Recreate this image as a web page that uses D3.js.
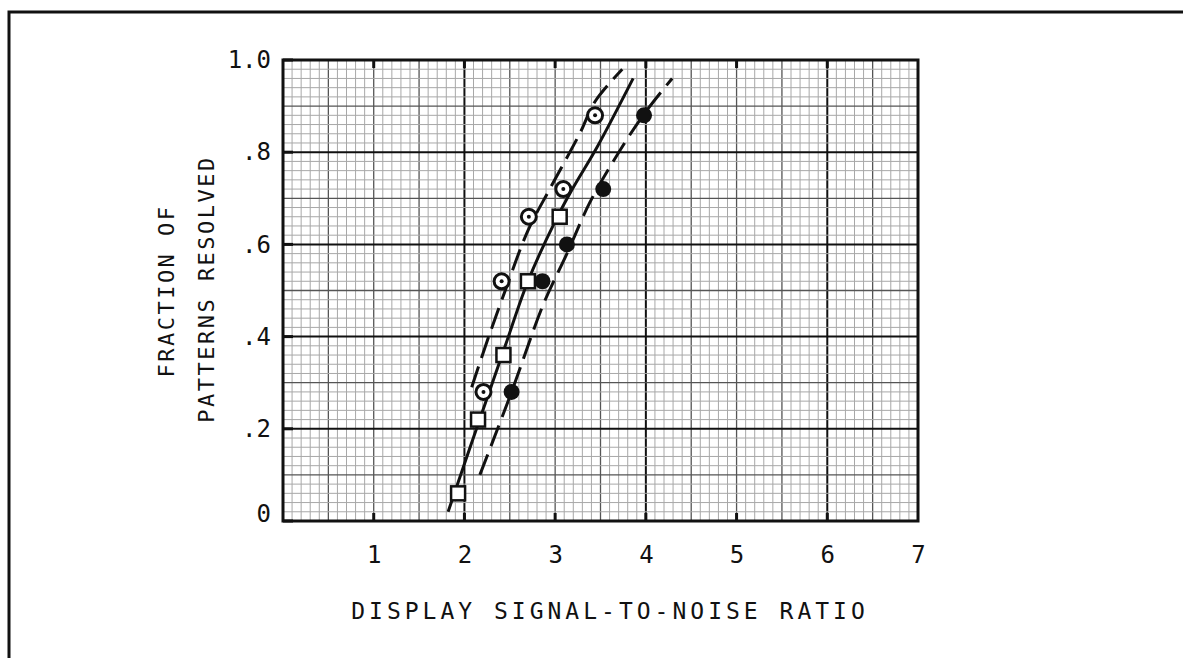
<!DOCTYPE html>
<html>
<head>
<meta charset="utf-8">
<script src="https://cdn.jsdelivr.net/npm/d3@7"></script>
<style>
  body { margin: 0; background: #fff; }
  svg { display: block; }
  text { font-family: "DejaVu Sans Mono", "Liberation Mono", monospace; fill: #111; }
</style>
</head>
<body>
<svg width="1183" height="658"></svg>
<script>
// ticks
var xTicks = [1, 2, 3, 4, 5, 6, 7];
var yTicks = [0, 0.2, 0.4, 0.6, 0.8, 1.0];
var yTickLabels = ["0", ".2", ".4", ".6", ".8", "1.0"];

// open squares
var sqX = [1.93, 2.15, 2.43, 2.70, 3.05];
var sqY = [0.06, 0.22, 0.36, 0.52, 0.66];
// open circles (with centre dot)
var ocX = [2.21, 2.41, 2.71, 3.09, 3.44];
var ocY = [0.28, 0.52, 0.66, 0.72, 0.88];
// filled circles
var fcX = [2.52, 2.86, 3.13, 3.53, 3.98];
var fcY = [0.28, 0.52, 0.60, 0.72, 0.88];

// fitted curves
var solidX = [1.82, 2.15, 2.45, 2.70, 3.00, 3.19, 3.46, 3.86];
var solidY = [0.02, 0.21, 0.38, 0.52, 0.65, 0.72, 0.81, 0.96];
var leftX = [2.08, 2.25, 2.45, 2.70, 2.94, 3.27, 3.44, 3.74];
var leftY = [0.29, 0.39, 0.50, 0.63, 0.72, 0.84, 0.91, 0.98];
var rightX = [2.17, 2.52, 2.87, 3.13, 3.38, 3.64, 3.97, 4.29];
var rightY = [0.10, 0.28, 0.47, 0.58, 0.69, 0.78, 0.88, 0.96];

var svg = d3.select("svg");

var x = d3.scaleLinear().domain([0, 7]).range([283, 918]);
var y = d3.scaleLinear().domain([0, 1]).range([521, 60]);

// page frame (scan edge)
svg.append("path")
    .attr("d", "M9,658 L9,12 L1183,12")
    .attr("fill", "none")
    .attr("stroke", "#111")
    .attr("stroke-width", 3);

// graph paper
var grid = svg.append("g");
grid.selectAll("line.vx")
    .data(d3.range(1, 70))
    .enter().append("line")
      .attr("x1", function(i) { return x(i / 10); })
      .attr("x2", function(i) { return x(i / 10); })
      .attr("y1", y(1)).attr("y2", y(0))
      .attr("stroke", function(i) { return i % 20 == 0 ? "#111" : (i % 5 == 0 ? "#555" : "#a8a8a8"); })
      .attr("stroke-width", function(i) { return i % 20 == 0 ? 2 : (i % 5 == 0 ? 1.3 : 1); });

grid.selectAll("line.hy")
    .data(d3.range(1, 50))
    .enter().append("line")
      .attr("y1", function(i) { return y(i / 50); })
      .attr("y2", function(i) { return y(i / 50); })
      .attr("x1", x(0)).attr("x2", x(7))
      .attr("stroke", function(i) { return i % 10 == 0 ? "#111" : (i % 5 == 0 ? "#555" : "#a8a8a8"); })
      .attr("stroke-width", function(i) { return i % 10 == 0 ? 2 : (i % 5 == 0 ? 1.3 : 1); });

// plot border
svg.append("rect")
    .attr("x", x(0)).attr("y", y(1))
    .attr("width", x(7) - x(0)).attr("height", y(0) - y(1))
    .attr("fill", "none")
    .attr("stroke", "#111")
    .attr("stroke-width", 3);

// small heavy ticks on the border
svg.append("g").selectAll("line")
    .data(xTicks.slice(0, 6))
    .enter().append("line")
      .attr("x1", function(d) { return x(d); })
      .attr("x2", function(d) { return x(d); })
      .attr("y1", y(0) - 8).attr("y2", y(0))
      .attr("stroke", "#111").attr("stroke-width", 3);
svg.append("g").selectAll("line")
    .data(xTicks.slice(0, 6))
    .enter().append("line")
      .attr("x1", function(d) { return x(d); })
      .attr("x2", function(d) { return x(d); })
      .attr("y1", y(1)).attr("y2", y(1) + 8)
      .attr("stroke", "#111").attr("stroke-width", 3);
svg.append("g").selectAll("line")
    .data(yTicks)
    .enter().append("line")
      .attr("x1", x(0)).attr("x2", x(0) + 10)
      .attr("y1", function(d) { return y(d); })
      .attr("y2", function(d) { return y(d); })
      .attr("stroke", "#111").attr("stroke-width", 3);

// axes (labels only)
var xAxis = svg.append("g")
    .attr("transform", "translate(0," + y(0) + ")")
    .call(d3.axisBottom(x).tickValues(xTicks).tickSize(0).tickPadding(25)
      .tickFormat(d3.format("d")));
xAxis.select(".domain").remove();
xAxis.selectAll("text").style("font-size", "24px");

var yAxis = svg.append("g")
    .attr("transform", "translate(" + x(0) + ",0)")
    .call(d3.axisLeft(y).tickValues(yTicks).tickSize(0).tickPadding(12)
      .tickFormat(function(d, i) { return yTickLabels[i]; }));
yAxis.select(".domain").remove();
yAxis.selectAll("text").style("font-size", "24px")
    .attr("dy", function(d) { return d == 0 ? "0em" : "0.32em"; });

// axis titles
svg.append("text")
    .attr("x", 610).attr("y", 619)
    .attr("text-anchor", "middle")
    .style("font-size", "23px")
    .style("letter-spacing", "4px")
    .text("DISPLAY SIGNAL-TO-NOISE RATIO");

svg.append("text")
    .attr("transform", "translate(174,291) rotate(-90)")
    .attr("text-anchor", "middle")
    .style("font-size", "22px")
    .style("letter-spacing", "2.5px")
    .text("FRACTION OF");

svg.append("text")
    .attr("transform", "translate(214,289) rotate(-90)")
    .attr("text-anchor", "middle")
    .style("font-size", "22px")
    .style("letter-spacing", "2.5px")
    .text("PATTERNS RESOLVED");

// curves
var line = d3.line()
    .x(function(d) { return x(d[0]); })
    .y(function(d) { return y(d[1]); })
    .curve(d3.curveCatmullRom);

function pairs(xs, ys) { return xs.map(function(v, i) { return [v, ys[i]]; }); }

svg.append("path")
    .datum(pairs(solidX, solidY))
    .attr("d", line)
    .attr("fill", "none").attr("stroke", "#111").attr("stroke-width", 3);

svg.append("path")
    .datum(pairs(leftX, leftY))
    .attr("d", line)
    .attr("fill", "none").attr("stroke", "#111").attr("stroke-width", 3)
    .attr("stroke-dasharray", "22,9");

svg.append("path")
    .datum(pairs(rightX, rightY))
    .attr("d", line)
    .attr("fill", "none").attr("stroke", "#111").attr("stroke-width", 3)
    .attr("stroke-dasharray", "22,9");

// markers
svg.append("g").selectAll("rect")
    .data(pairs(sqX, sqY))
    .enter().append("rect")
      .attr("x", function(d) { return x(d[0]) - 7; })
      .attr("y", function(d) { return y(d[1]) - 7; })
      .attr("width", 14).attr("height", 14)
      .attr("fill", "#fff").attr("stroke", "#111").attr("stroke-width", 2.5);

var oc = svg.append("g").selectAll("g")
    .data(pairs(ocX, ocY))
    .enter().append("g")
      .attr("transform", function(d) { return "translate(" + x(d[0]) + "," + y(d[1]) + ")"; });
oc.append("circle").attr("r", 7.5)
    .attr("fill", "#fff").attr("stroke", "#111").attr("stroke-width", 3);
oc.append("circle").attr("r", 2).attr("fill", "#111");

svg.append("g").selectAll("circle")
    .data(pairs(fcX, fcY))
    .enter().append("circle")
      .attr("cx", function(d) { return x(d[0]); })
      .attr("cy", function(d) { return y(d[1]); })
      .attr("r", 8)
      .attr("fill", "#111");
</script>
</body>
</html>
